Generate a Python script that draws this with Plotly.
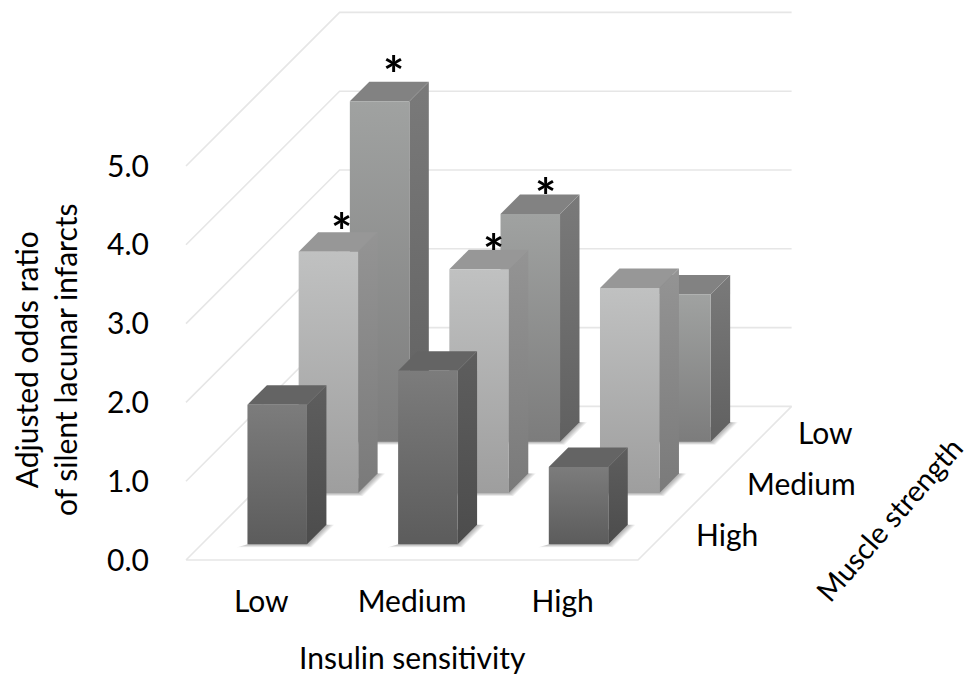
import plotly.graph_objects as go

# Odds ratios by muscle strength (rows, back to front) and insulin sensitivity (columns)
insulin_levels = ["Low", "Medium", "High"]
muscle_levels = ["Low", "Medium", "High"]
low_muscle_values = [4.32, 2.89, 1.87]
medium_muscle_values = [3.06, 2.84, 2.60]
high_muscle_values = [1.77, 2.20, 0.98]
value_ticks = [0, 1, 2, 3, 4, 5]
# (muscle row, insulin column, horizontal shift, vertical shift) of the significance marks
significant = [("Low", 0, -6, -24), ("Medium", 0, -6, -31), ("Medium", 1, -5, -34), ("Low", 1, -4, -33)]

FONT = "Lato, Carlito, Calibri, sans-serif"
FONT_SIZE = 30
WIDTH, HEIGHT = 973, 676

# Oblique projection: one depth row shifts a point right and up on the page
CAT_PX = 150.67
UNIT_PX = 78.8
ROW_PX = 51.2
ORIGIN_X, ORIGIN_Y = 186, 560
LEFT, BOTTOM = 153, 581
BAR_W = 0.395
BAR_D = 0.38
N_ROWS = len(muscle_levels)
N_COLS = len(insulin_levels)


def project(col, row, value):
    """Map (insulin column, depth in rows from the front, value) to axis coordinates."""
    return col + row * ROW_PX / CAT_PX, value + row * ROW_PX / UNIT_PX


def page(px, py):
    """Paper coordinates of a page position, for the free-standing titles."""
    return (px - LEFT) / (WIDTH - LEFT), (BOTTOM - py) / BOTTOM


def polygon(corners, gradient=None, fill=None):
    xs, ys = zip(*[project(*c) for c in corners])
    spec = dict(x=list(xs) + [xs[0]], y=list(ys) + [ys[0]], mode="lines", fill="toself",
                line=dict(width=0), hoverinfo="skip", showlegend=False)
    if gradient:
        spec["fillgradient"] = dict(type="vertical", colorscale=[[0, gradient[0]], [1, gradient[1]]])
        spec["fillcolor"] = gradient[0]
    else:
        spec["fillcolor"] = fill
    return go.Scatter(**spec)


fig = go.Figure()

# Wall and floor lines
GRID = "#e6e6e6"
for v in value_ticks:
    pts = [(0, 0, v), (0, N_ROWS, v), (N_COLS, N_ROWS, v)]
    if v == 0:
        pts += [(N_COLS, 0, v), (0, 0, v)]
    xs, ys = zip(*[project(*p) for p in pts])
    fig.add_trace(go.Scatter(x=xs, y=ys, mode="lines", line=dict(color=GRID, width=1.6),
                             hoverinfo="skip", showlegend=False))

# Face colours per row: (front face), (side face), top face
palette = {
    "Low": (("#7c7c7c", "#a0a2a1"), ("#606060", "#7a7a7a"), "#828282"),
    "Medium": (("#9e9e9e", "#c0c1c1"), ("#7a7a7a", "#949494"), "#979797"),
    "High": (("#5c5c5c", "#7c7c7c"), ("#4c4c4c", "#5e5e5e"), "#646464"),
}
rows = {"Low": low_muscle_values, "Medium": medium_muscle_values, "High": high_muscle_values}

top_anchor = {}
for r, level in enumerate(muscle_levels):
    depth = N_ROWS - 1 - r  # the first level sits at the back
    d0 = depth + (1 - BAR_D) / 2
    d1 = d0 + BAR_D
    for c, val in enumerate(rows[level]):
        x0 = c + (1 - BAR_W) / 2
        x1 = x0 + BAR_W
        # Soft contact shadow on the floor
        for g in (0.05, 0.042, 0.034, 0.026, 0.018, 0.01):
            fig.add_trace(polygon([(x0 - g, d0 - g * 1.2, 0), (x1 + g, d0 - g * 1.2, 0),
                                   (x1 + g, d1, 0), (x1, d1, 0)],
                                  fill="rgba(60,60,60,0.07)"))
        front, side, top = palette[level]
        fig.add_trace(polygon([(x1, d0, 0), (x1, d1, 0), (x1, d1, val), (x1, d0, val)], gradient=side))
        fig.add_trace(polygon([(x0, d0, val), (x1, d0, val), (x1, d1, val), (x0, d1, val)], fill=top))
        fig.add_trace(polygon([(x0, d0, 0), (x1, d0, 0), (x1, d0, val), (x0, d0, val)], gradient=front))
        top_anchor[(level, c)] = project((x0 + x1) / 2, d1, val)

annotations = []

# Significance marks above the bars
for level, c, dx, dy in significant:
    ax, ay = top_anchor[(level, c)]
    annotations.append(dict(x=ax, y=ay, text="<b>*</b>", showarrow=False, xanchor="center", yanchor="bottom",
                            xshift=dx, yshift=dy, font=dict(family=FONT, size=50, color="#000000")))

# Muscle strength labels follow the right edge of the floor
for r, level in enumerate(muscle_levels):
    depth = N_ROWS - 1 - r + 0.5
    ax, ay = project(N_COLS, depth, 0)
    annotations.append(dict(x=ax, y=ay, text=level, showarrow=False, xanchor="left", yanchor="middle",
                            xshift=30, font=dict(family=FONT, size=FONT_SIZE, color="#000000")))

# Axis titles
for (px, py), text, angle, size in (
    ((412, 657), "Insulin sensitivity", 0, FONT_SIZE),
    ((888, 519), "Muscle strength", -49, 29),
    ((45, 360), "Adjusted odds ratio<br>of silent lacunar infarcts", -90, FONT_SIZE),
):
    ax, ay = page(px, py)
    annotations.append(dict(x=ax, y=ay, xref="paper", yref="paper", text=text, textangle=angle,
                            xanchor="center", yanchor="middle", showarrow=False, align="center",
                            font=dict(family=FONT, size=size, color="#000000")))

fig.update_layout(
    width=WIDTH, height=HEIGHT,
    margin=dict(l=LEFT, r=0, t=0, b=HEIGHT - BOTTOM),
    paper_bgcolor="white", plot_bgcolor="white",
    showlegend=False, hovermode=False, annotations=annotations,
    font=dict(family=FONT, size=FONT_SIZE, color="#000000"),
    xaxis=dict(range=[(LEFT - ORIGIN_X) / CAT_PX, (WIDTH - ORIGIN_X) / CAT_PX],
               tickvals=[i + 0.5 for i in range(N_COLS)], ticktext=insulin_levels,
               showgrid=False, zeroline=False, showline=False, ticks="", ticklabelstandoff=0),
    yaxis=dict(range=[(ORIGIN_Y - BOTTOM) / UNIT_PX, ORIGIN_Y / UNIT_PX],
               tickvals=value_ticks, ticktext=[f"{v:.1f}" for v in value_ticks],
               showgrid=False, zeroline=False, showline=False, ticks="", ticklabelstandoff=3),
)

fig.write_html("out.html", config=dict(displayModeBar=False))
